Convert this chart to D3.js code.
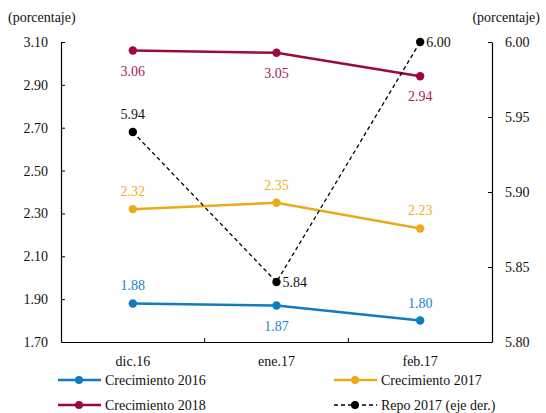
<!DOCTYPE html>
<html>
<head>
<meta charset="utf-8">
<script src="https://cdn.jsdelivr.net/npm/d3@7"></script>
<style>
  html, body { margin: 0; padding: 0; background: #fff; }
</style>
</head>
<body>
<svg id="chart" width="546" height="413"></svg>
<script>
// Monthly observations
const categories = ["dic.16", "ene.17", "feb.17"];
const crecimiento2016 = [1.88, 1.87, 1.80];
const crecimiento2017 = [2.32, 2.35, 2.23];
const crecimiento2018 = [3.06, 3.05, 2.94];
const repo2017 = [5.94, 5.84, 6.00];

const leftTicks = [1.70, 1.90, 2.10, 2.30, 2.50, 2.70, 2.90, 3.10];
const rightTicks = [5.80, 5.85, 5.90, 5.95, 6.00];

const FONT = "Liberation Serif, Tinos, Noto Serif, DejaVu Serif, Times New Roman, Times, Nimbus Roman, FreeSerif, serif";
const svg = d3.select("#chart").attr("font-family", FONT);
const m = { left: 61, right: 492, top: 42, bottom: 342 };

const x = d3.scaleBand().domain(categories).range([m.left, m.right]);
const cx = d => x(d) + x.bandwidth() / 2;
const yL = d3.scaleLinear().domain([1.70, 3.10]).range([m.bottom, m.top]);
const yR = d3.scaleLinear().domain([5.80, 6.00]).range([m.bottom, m.top]);

const fmt = d3.format(".2f");
const axisColor = "#000";

// Left axis: inward ticks, labels to the left
const gL = svg.append("g").attr("transform", `translate(${m.left},0)`)
  .call(d3.axisLeft(yL).tickValues(leftTicks).tickFormat(fmt).tickSizeInner(-4).tickSizeOuter(0).tickPadding(13));
// Right axis
const gR = svg.append("g").attr("transform", `translate(${m.right},0)`)
  .call(d3.axisRight(yR).tickValues(rightTicks).tickFormat(fmt).tickSizeInner(-4).tickSizeOuter(0).tickPadding(13));
// Bottom axis
const gB = svg.append("g").attr("transform", `translate(0,${m.bottom})`)
  .call(d3.axisBottom(x).tickSize(0).tickPadding(14));

[gL, gR, gB].forEach(g => {
  g.attr("font-family", FONT).attr("font-size", 14);
  g.select(".domain").attr("stroke", axisColor).attr("stroke-width", 1.2);
  g.selectAll(".tick line").attr("stroke", axisColor).attr("stroke-width", 1);
  g.selectAll(".tick text").attr("fill", "#111");
});
gR.selectAll(".tick").filter(d => d === 5.80).select("line").remove();
gL.selectAll(".tick").filter(d => d === 1.70).select("line").remove();

// interior boundary ticks on the category axis
const bounds = categories.slice(1).map(c => x(c));
svg.append("g").selectAll("line").data(bounds).join("line")
  .attr("x1", d => d).attr("x2", d => d)
  .attr("y1", m.bottom).attr("y2", m.bottom - 4)
  .attr("stroke", axisColor).attr("stroke-width", 1);

// Axis unit titles
svg.append("text").attr("x", 8).attr("y", 22).text("(porcentaje)")
  .attr("font-size", 14).attr("fill", "#111");
svg.append("text").attr("x", 540).attr("y", 22).attr("text-anchor", "end").text("(porcentaje)")
  .attr("font-size", 14).attr("fill", "#111");

const series = [
  { name: "Crecimiento 2016", values: crecimiento2016, color: "#0F7CC1", text: "#1A86C8", y: yL, pos: ["above", "below", "above"] },
  { name: "Crecimiento 2017", values: crecimiento2017, color: "#EBAA1A", text: "#EEAE22", y: yL, pos: ["above", "above", "above"] },
  { name: "Crecimiento 2018", values: crecimiento2018, color: "#9A0B38", text: "#A8224C", y: yL, pos: ["below", "below", "below"] },
  { name: "Repo 2017 (eje der.)", values: repo2017, color: "#000", text: "#111", y: yR, dashed: true, pos: ["above", "right", "right"] }
];

series.forEach(s => {
  const pts = categories.map((c, i) => [cx(c), s.y(s.values[i])]);
  const g = svg.append("g");
  g.append("path")
    .attr("d", d3.line()(pts))
    .attr("fill", "none")
    .attr("stroke", s.color)
    .attr("stroke-width", s.dashed ? 1.3 : 2.5)
    .attr("stroke-dasharray", s.dashed ? "4,3" : null);
  g.selectAll("circle").data(pts).join("circle")
    .attr("cx", d => d[0]).attr("cy", d => d[1])
    .attr("r", 4.2).attr("fill", s.color);
  g.selectAll("text").data(pts).join("text")
    .attr("x", (d, i) => s.pos[i] === "right" ? d[0] + 6 : d[0])
    .attr("y", (d, i) => s.pos[i] === "above" ? d[1] - 13 : s.pos[i] === "below" ? d[1] + 25 : d[1] + 5)
    .attr("text-anchor", (d, i) => s.pos[i] === "right" ? "start" : "middle")
    .attr("fill", s.text)
    .attr("font-size", 14)
    .text((d, i) => fmt(s.values[i]));
});

// Legend
const legendPos = [[58, 380], [334, 380], [58, 405], [334, 405]];
series.forEach((s, i) => {
  const [lx, ly] = legendPos[i];
  const g = svg.append("g");
  g.append("line").attr("x1", lx).attr("x2", lx + 43).attr("y1", ly).attr("y2", ly)
    .attr("stroke", s.color).attr("stroke-width", s.dashed ? 1.3 : 2.5)
    .attr("stroke-dasharray", s.dashed ? "4,3" : null);
  g.append("circle").attr("cx", lx + 21).attr("cy", ly).attr("r", 4).attr("fill", s.color);
  g.append("text").attr("x", lx + 47).attr("y", ly + 5).text(s.name)
    .attr("font-size", 14).attr("fill", "#111");
});
</script>
</body>
</html>
